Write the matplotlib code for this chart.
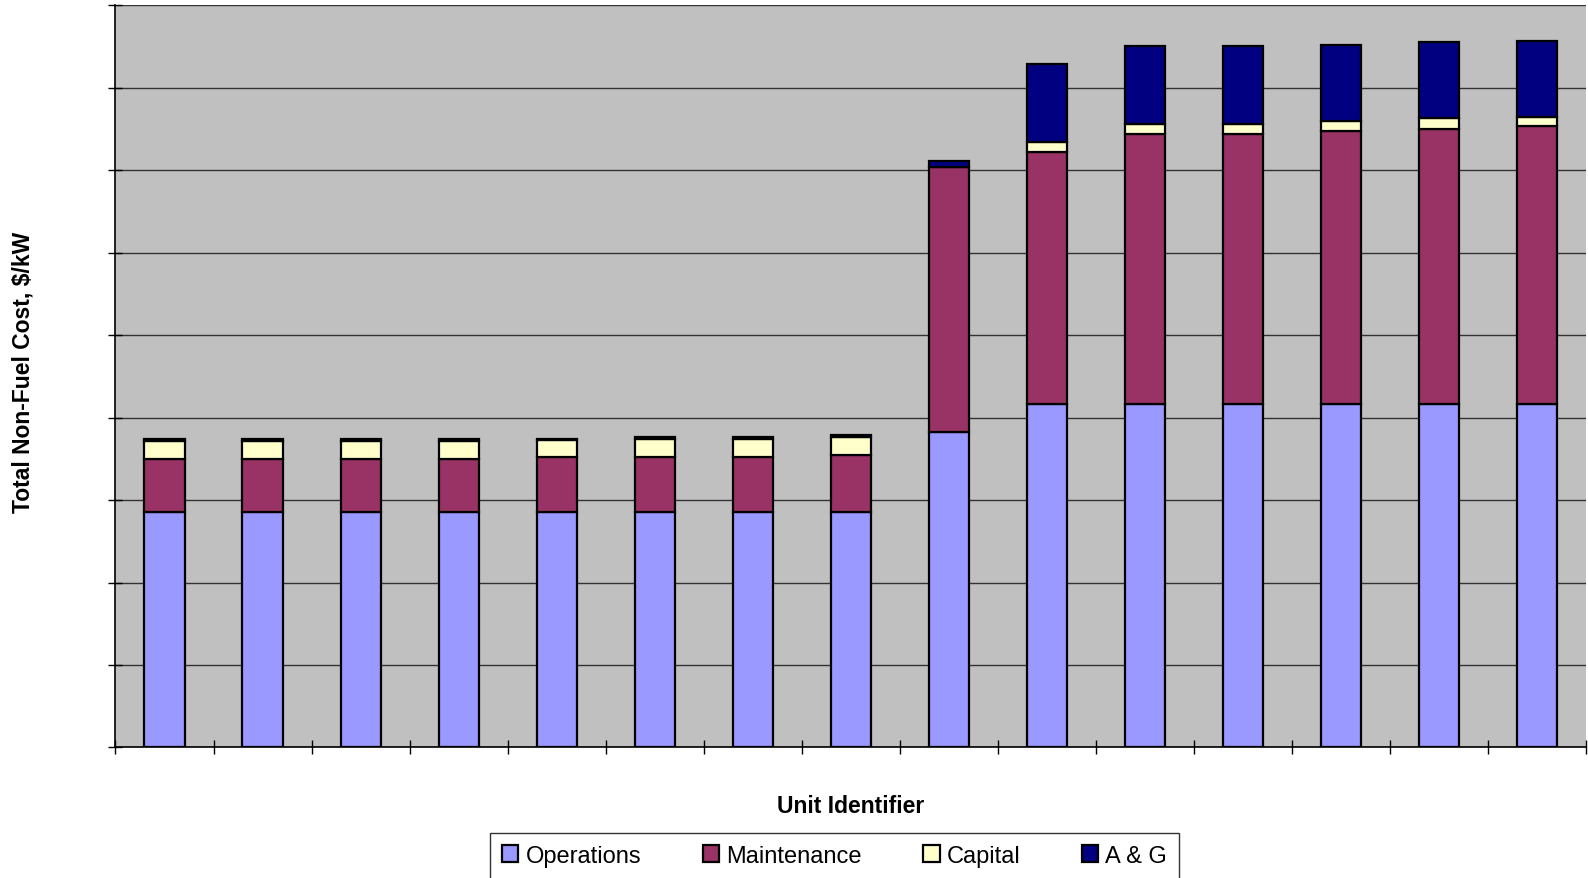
import matplotlib.pyplot as plt
import numpy as np

# values (arbitrary $/kW scale, gridline every 10)
units = list(range(1, 16))
operations = [28.6, 28.6, 28.6, 28.6, 28.6, 28.6, 28.6, 28.6, 38.3, 41.6, 41.6, 41.6, 41.6, 41.6, 41.6]
maintenance = [6.4, 6.4, 6.4, 6.4, 6.6, 6.6, 6.6, 6.9, 32.1, 30.6, 32.8, 32.8, 33.1, 33.4, 33.7]
capital = [2.1, 2.1, 2.1, 2.1, 2.1, 2.2, 2.2, 2.1, 0.0, 1.2, 1.2, 1.2, 1.2, 1.3, 1.2]
a_and_g = [0.3, 0.3, 0.3, 0.3, 0.05, 0.2, 0.2, 0.3, 0.7, 9.5, 9.4, 9.4, 9.3, 9.2, 9.2]

series = [("Operations", operations, "#9999FF"),
          ("Maintenance", maintenance, "#993366"),
          ("Capital", capital, "#FFFFCC"),
          ("A & G", a_and_g, "#000080")]

plt.rcParams['font.family'] = ['Liberation Sans', 'DejaVu Sans']

fig = plt.figure(figsize=(15.88, 8.79), dpi=100)
ax = fig.add_axes([0.0727, 0.1485, 0.9263, 0.8445])
ax.set_facecolor("#C0C0C0")

x = np.arange(len(units))
bottom = np.zeros(len(units))
for name, vals, color in series:
    vals = np.array(vals)
    ax.bar(x, vals, width=0.41, bottom=bottom, color=color, edgecolor="black",
           linewidth=1.6, label=name, zorder=3)
    bottom += vals

ax.set_xlim(-0.5, len(units) - 0.5)
ax.set_ylim(0, 90)
ax.set_yticks(np.arange(0, 91, 10))
ax.set_yticklabels([])
ax.set_xticks(np.arange(-0.5, len(units), 1.0))
ax.set_xticklabels([])
ax.tick_params(axis="both", direction="inout", length=10, width=1, color="black")
ax.yaxis.grid(True, color="#333333", linewidth=1)
ax.set_axisbelow(True)

for side in ["top", "right"]:
    ax.spines[side].set_visible(False)
for side in ["left", "bottom"]:
    ax.spines[side].set_color("black")
    ax.spines[side].set_linewidth(1.2)

# axis titles placed in figure coords like the original
fig.text(0.5356, 0.0825, "Unit Identifier", fontsize=16.5, fontweight="bold",
         ha="center", va="center")
fig.text(0.0145, 0.576, "Total Non-Fuel Cost, $/kW", fontsize=16.5, fontweight="bold",
         ha="center", va="center", rotation=90)

leg = fig.legend(loc="upper center", bbox_to_anchor=(0.5255, 0.051), ncol=4,
                 fontsize=17, frameon=True, fancybox=False, edgecolor="black",
                 handlelength=0.7, handleheight=0.7, handletextpad=0.3,
                 columnspacing=2.6, borderpad=0.5, borderaxespad=0)
leg.get_frame().set_linewidth(1)

fig.savefig("out.png", dpi=100, facecolor="white")
